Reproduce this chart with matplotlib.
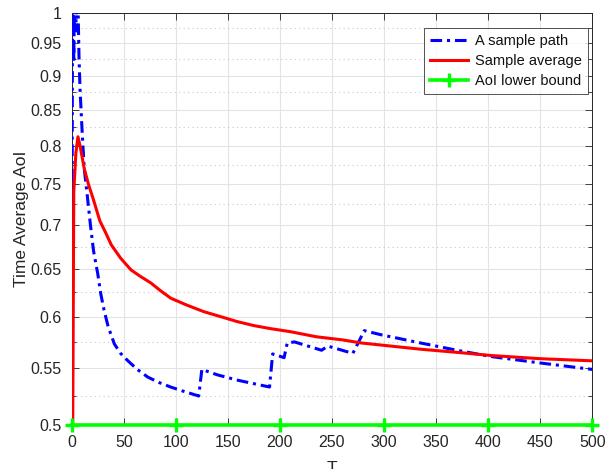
import matplotlib
matplotlib.use("Agg")
import matplotlib.pyplot as plt
from matplotlib.ticker import FixedLocator, NullFormatter

plt.rcParams['font.family'] = ['Liberation Sans', 'DejaVu Sans']

# ---- data ----
path_T = [0, 1, 2, 3, 4, 5, 6, 7, 8, 10, 12, 15, 18, 21, 25, 28, 31, 35, 41, 47, 54, 63,
          73, 84, 95, 108, 122, 125, 140, 160, 175, 190, 193, 204, 207, 214, 240, 246,
          270, 281, 297, 335, 370, 403, 450, 500]
path_val = [0.5, 1.25, 0.92, 1.15, 0.97, 1.10, 1.02, 0.93, 0.88, 0.82, 0.77, 0.735, 0.70,
            0.67, 0.645, 0.623, 0.607, 0.590, 0.573, 0.564, 0.557, 0.549, 0.542, 0.537,
            0.533, 0.529, 0.525, 0.549, 0.544, 0.539, 0.536, 0.533, 0.5635, 0.560, 0.574,
            0.575, 0.567, 0.571, 0.564, 0.586, 0.582, 0.574, 0.567, 0.561, 0.555, 0.549]

avg_T = [1, 2, 4, 6, 8, 12, 16, 21, 27, 33, 38, 47, 57, 66, 76, 85, 95, 110, 127, 143,
         159, 175, 191, 210, 235, 260, 278, 297, 335, 370, 403, 450, 500]
avg_val = [0.5, 0.74, 0.79, 0.812, 0.80, 0.77, 0.75, 0.73, 0.705, 0.69, 0.677, 0.662,
           0.649, 0.642, 0.635, 0.627, 0.619, 0.612, 0.605, 0.600, 0.595, 0.591, 0.588,
           0.585, 0.580, 0.577, 0.574, 0.572, 0.568, 0.565, 0.562, 0.559, 0.557]

bound_T = [0, 100, 200, 300, 400, 500]
bound_val = [0.5, 0.5, 0.5, 0.5, 0.5, 0.5]

xticks = [0, 50, 100, 150, 200, 250, 300, 350, 400, 450, 500]
yticks = [0.5, 0.55, 0.6, 0.65, 0.7, 0.75, 0.8, 0.85, 0.9, 0.95, 1.0]
ytick_labels = ['0.5', '0.55', '0.6', '0.65', '0.7', '0.75', '0.8', '0.85', '0.9', '0.95', '1']
yminor = [0.525, 0.575, 0.625, 0.675, 0.725, 0.775, 0.825, 0.875, 0.925, 0.975]

# ---- figure ----
fig = plt.figure(figsize=(6.07, 4.69), dpi=100)
ax = fig.add_axes([71.7 / 607, 1 - 425 / 469, (592.3 - 71.7) / 607, (425 - 13) / 469])

txtc = '#262626'
ax.plot(path_T, path_val, color='#0000ff', lw=2.2, linestyle=(0, (3.8, 1.6, 1.0, 1.6)),
        label='A sample path', zorder=3)
ax.plot(avg_T, avg_val, color='#ff0000', lw=2.2, label='Sample average', zorder=4)
ax.plot(bound_T, bound_val, color='#00ff00', lw=2.6, marker='+', ms=10, mew=2.4,
        label='AoI lower bound', clip_on=False, zorder=5)

ax.set_yscale('log')
ax.set_xlim(0, 500)
ax.set_ylim(0.5, 1.0)
ax.set_xticks(xticks)
ax.set_xticklabels([str(v) for v in xticks])
ax.yaxis.set_major_locator(FixedLocator(yticks))
ax.set_yticklabels(ytick_labels)
ax.yaxis.set_minor_locator(FixedLocator(yminor))
ax.yaxis.set_minor_formatter(NullFormatter())
ax.xaxis.set_minor_locator(FixedLocator([]))

ax.grid(True, which='major', color='#e3e3e3', lw=0.8, linestyle='-')
ax.grid(True, which='minor', axis='y', color='#c8c8c8', lw=0.8, linestyle=(0, (1, 3)))
ax.set_axisbelow(True)

ax.tick_params(which='both', direction='in', top=True, right=True, colors=txtc,
               labelsize=11.5, width=0.6)
ax.tick_params(which='major', length=5, pad=7)
ax.tick_params(which='minor', length=3)
for s in ax.spines.values():
    s.set_color(txtc)
    s.set_linewidth(0.7)

ax.set_xlabel('T', fontsize=12.5, color=txtc, labelpad=8)
ax.set_ylabel('Time Average AoI', fontsize=12.5, color=txtc, labelpad=1)

leg = ax.legend(loc='upper right', bbox_to_anchor=((588 - 71.7) / (592.3 - 71.7), (425 - 28) / 412),
                fontsize=10.5, frameon=True, fancybox=False, handlelength=2.6,
                borderpad=0.4, labelspacing=0.42, handletextpad=0.5, borderaxespad=0)
leg.get_frame().set_edgecolor(txtc)
leg.get_frame().set_linewidth(0.7)
for t in leg.get_texts():
    t.set_color('#111111')

fig.savefig('out.png', dpi=100)
